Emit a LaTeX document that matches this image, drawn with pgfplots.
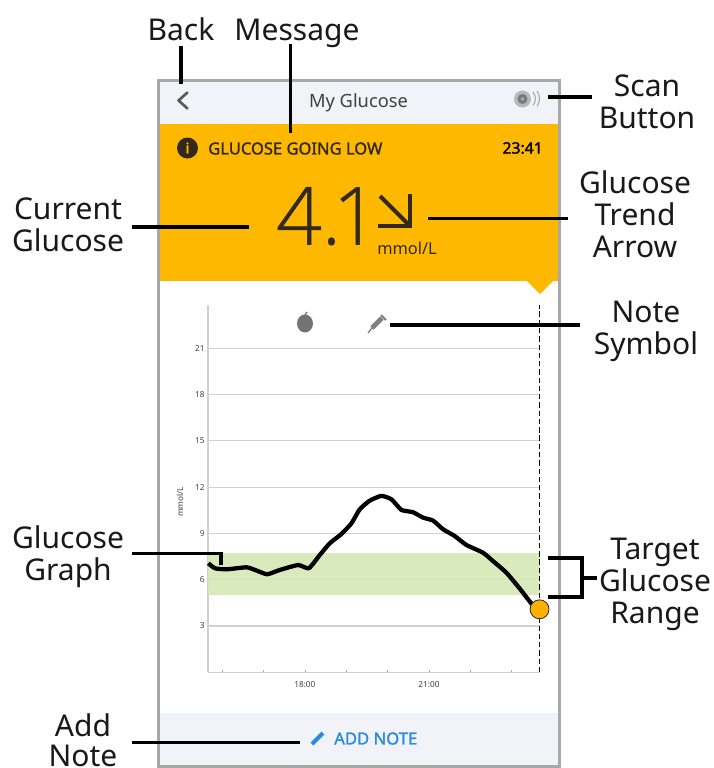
\documentclass[border=0pt]{standalone}
\usepackage{pgfplots}
\pgfplotsset{compat=1.18}
\usepackage{fontspec}
\setmainfont{Noto Sans}
\newfontfamily\nb{Noto Sans}[FakeBold=1.6]
\newfontfamily\lf{Open Sans Light}[FakeBold=0.7]
\definecolor{frame}{HTML}{A8A8A8}
\definecolor{head}{HTML}{F1F3F8}
\definecolor{amber}{HTML}{FFB800}
\definecolor{band}{HTML}{D5E9B5}
\definecolor{dark}{HTML}{33291A}
\definecolor{bluetx}{HTML}{2A8AE0}
\definecolor{dotc}{HTML}{FFB000}
\newcommand{\lab}[3]{\node[anchor=base,inner sep=0pt,font=\fontsize{22.5}{26}\selectfont,text=black!90] at (#1,#2) {#3};}
\pgfplotstableread{
t g
15.667 7.06
15.828 6.74
16.109 6.67
16.592 6.80
16.833 6.59
17.091 6.35
17.397 6.63
17.839 6.95
18.097 6.74
18.362 7.60
18.603 8.36
18.885 8.96
19.126 9.65
19.327 10.56
19.569 11.12
19.850 11.43
20.092 11.21
20.333 10.52
20.615 10.37
20.856 10.02
21.097 9.83
21.339 9.27
21.620 8.83
21.902 8.25
22.304 7.75
22.545 7.21
22.867 6.46
23.189 5.44
23.471 4.47
23.672 4.08
}\glucosetable
\begin{document}
\begin{tikzpicture}
\path[use as bounding box] (0,0) rectangle (535.5pt,-576pt);
\begin{scope}[x=.75pt,y=-.75pt]
 \fill[white] (0,0) rectangle (714,768);
 \fill[head] (159,81) rectangle (559,124);
 \fill[head] (159,713) rectangle (559,766);
 \draw[frame,line width=2pt] (158.5,80.5) -- (559.5,80.5) -- (559.5,766.5) -- (158.5,766.5) -- cycle;
 \fill[amber] (160,124) rectangle (558,281);
 \fill[amber] (527,281) -- (553,281) -- (540,294) -- cycle;
 \node[font=\fontsize{13.7}{16}\selectfont,text=black!75,inner sep=0pt] at (358.5,103) {My Glucose};
 \draw[black!65,line width=2pt,line cap=round,line join=round] (187.5,92.5) -- (178.5,100.5) -- (187.5,108.5);
 % scan icon
 \fill[black!28] (522.5,99) circle (8.5);
 \fill[black!52] (522.5,99) circle (5);
 \fill[black!30] (522.5,99) circle (1.8);
 \draw[black!35,line width=.8pt] (533,92) arc (-40:40:10.5);
 \draw[black!35,line width=.8pt] (537,91) arc (-35:35:13.5);
 % message row
 \fill[dark] (187.5,148) circle (10.5);
 \node[text=amber,font=\fontsize{11}{12}\nb,inner sep=0pt] at (187.5,148) {i};
 \node[anchor=west,inner sep=0pt,text=dark,font=\fontsize{12.4}{14}\nb] at (208,148.5) {GLUCOSE GOING LOW};
 \node[anchor=east,inner sep=0pt,text=black,font=\fontsize{11.8}{12}\nb] at (543,148) {23:41};
 % reading
 \node[anchor=base west,inner sep=0pt,text=dark,font=\fontsize{60}{64}\lf] at (276,244.5) {4.\kern-6pt1};
 \draw[dark,line width=3pt] (380,196) -- (409,225);
 \draw[dark,line width=3pt] (409.5,194) -- (409.5,227.5);
 \draw[dark,line width=3pt] (378,226) -- (411,226);
 \node[anchor=west,inner sep=0pt,text=dark,font=\fontsize{12.3}{14}\selectfont] at (377,248) {mmol/L};
 % add note
 \node[anchor=west,inner sep=0pt,text=bluetx,font=\fontsize{12.5}{14}\nb] at (334,738.5) {ADD NOTE};
 \draw[bluetx,line width=3pt] (312,744) -- (323,733);
 % note icons
 \fill[black!55] (305,323.5) ellipse (8 and 9);
 \draw[black!55,line width=1pt] (305,315) -- (307,312);
 \draw[black!50,line width=3.5pt] (372,328) -- (382,318);
 \draw[black!50,line width=1pt] (368,333) -- (372,328);
 \draw[black!50,line width=1.5pt] (381,315) -- (386,320);
\end{scope}
\begin{axis}[
 at={(156pt,-504.2pt)},anchor=south west,
 scale only axis,width=249pt,height=275.5pt,
 xmin=15.66,xmax=23.683,ymin=0,ymax=23.8,
 clip=false,
 axis lines=left,
 axis line style={-,draw=black!18,line width=.8pt},
 xtick={16,17,18,19,20,21,22,23},
 xticklabels={,,18:00,,,21:00,,},
 ytick={3,6,9,12,15,18,21},
 ymajorgrids,
 grid style={draw=black!18,line width=.8pt},
 xtick style={draw=black!35,line width=.5pt},
 ytick style={draw=none},
 major tick length=2pt,
 tick align=inside,
 /pgf/number format/assume math mode=true,
 tick label style={font=\fontsize{6.2}{7}\selectfont,text=black!75},
 xticklabel style={yshift=-3.5pt},
 yticklabel style={xshift=1pt},
 ylabel={mmol/L},
 ylabel style={at={(axis description cs:-0.084,0.464)},anchor=center,font=\fontsize{6.2}{7}\selectfont,text=black!75},
]
\addplot[fill=band,draw=none,fill opacity=.9] coordinates {(15.66,5.01) (23.683,5.01) (23.683,7.71) (15.66,7.71)} -- cycle;
\addplot[black,line width=1.4pt,dash pattern=on 4pt off 2.2pt] coordinates {(23.672,0) (23.672,23.8)};
\addplot[black,line width=3.2pt,line join=round,smooth,tension=.3] table[x=t,y=g] {\glucosetable};
\addplot[only marks,mark=*,mark size=7.1pt,mark options={fill=dotc,draw=black!85,line width=.6pt}] coordinates {(23.672,4.08)};
\end{axis}
\begin{scope}[x=.75pt,y=-.75pt]
 \tikzset{ln/.style={black,line width=2.3pt}}
 \draw[ln] (181,46) -- (181,84);
 \draw[ln] (290.7,44) -- (290.7,133);
 \draw[ln] (548,97) -- (592,97);
 \draw[ln] (428,218.7) -- (568,218.7);
 \draw[ln] (132,227) -- (249,227);
 \draw[ln] (390,325) -- (580,325);
 \draw[ln] (132,553.5) -- (221,553.5) -- (221,565);
 \draw[ln] (132,742.7) -- (300,742.7);
 \draw[ln] (548,558) -- (582,558) -- (582,597) -- (548,597);
 \draw[ln] (582,578) -- (597,578);
 \lab{181}{40}{Back}
 \lab{297}{40}{Message}
 \lab{647}{96}{Scan}
 \lab{647}{128.5}{Button}
 \lab{68}{219}{Current}
 \lab{68}{251}{Glucose}
 \lab{635}{193.5}{Glucose}
 \lab{635}{225.5}{Trend}
 \lab{635}{257.5}{Arrow}
 \lab{646}{322.5}{Note}
 \lab{646}{354.5}{Symbol}
 \lab{68}{548}{Glucose}
 \lab{68}{580}{Graph}
 \lab{655}{559}{Target}
 \lab{655}{591}{Glucose}
 \lab{655}{623}{Range}
 \lab{83}{736}{Add}
 \lab{83}{766.5}{Note}
\end{scope}
\end{tikzpicture}
\end{document}
